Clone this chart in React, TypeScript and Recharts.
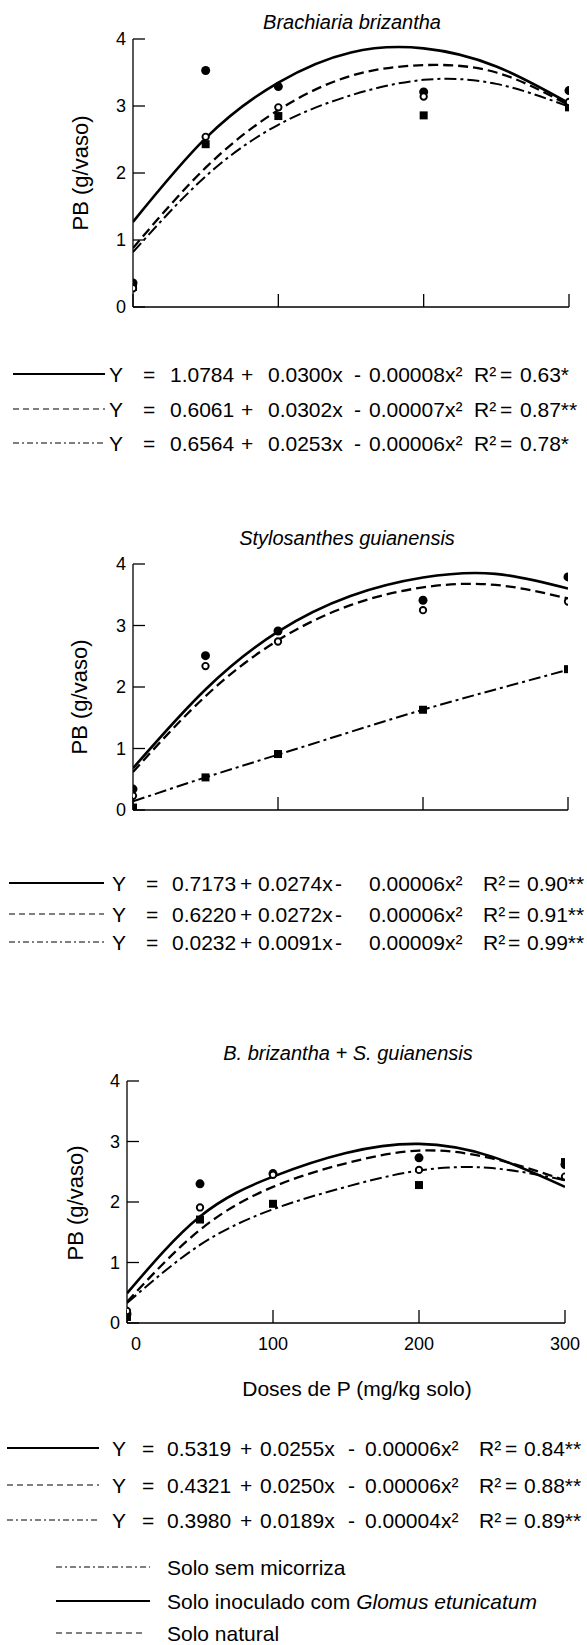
import React from 'react';
import { ComposedChart, XAxis, YAxis, Line, Scatter } from 'recharts';

// ---------- data ----------
const doses = [0, 50, 100, 200, 300];
const curveDoses = [0, 50, 100, 150, 200, 250, 300];
const xTicks = [0, 100, 200, 300];
const yTicks = [0, 1, 2, 3, 4];

// Brachiaria brizantha
const bbInoculado = [0.36, 3.53, 3.29, 3.21, 3.23];
const bbNatural = [0.28, 2.54, 2.98, 3.14, 3.06];
const bbSemMic = [0.3, 2.43, 2.85, 2.86, 2.98];
const bbCurveInoc = [1.27, 2.52, 3.35, 3.8, 3.86, 3.59, 3.04];
const bbCurveNat = [0.88, 2.08, 2.94, 3.45, 3.61, 3.5, 3.01];
const bbCurveSem = [0.82, 1.95, 2.72, 3.16, 3.39, 3.33, 2.99];

// Stylosanthes guianensis
const sgInoculado = [0.34, 2.51, 2.91, 3.41, 3.79];
const sgNatural = [0.23, 2.34, 2.74, 3.25, 3.39];
const sgSemMic = [0.04, 0.53, 0.91, 1.63, 2.29];
const sgCurveInoc = [0.68, 1.96, 2.9, 3.48, 3.78, 3.84, 3.6];
const sgCurveNat = [0.62, 1.85, 2.76, 3.33, 3.62, 3.66, 3.44];
const sgCurveSem = [0.14, 0.53, 0.9, 1.27, 1.63, 1.96, 2.28];

// B. brizantha + S. guianensis
const mxInoculado = [0.15, 2.3, 2.47, 2.73, 2.62];
const mxNatural = [0.2, 1.91, 2.45, 2.53, 2.42];
const mxSemMic = [0.1, 1.71, 1.97, 2.28, 2.66];
const mxCurveInoc = [0.49, 1.76, 2.42, 2.81, 2.96, 2.75, 2.25];
const mxCurveNat = [0.35, 1.54, 2.25, 2.64, 2.85, 2.72, 2.36];
const mxCurveSem = [0.33, 1.29, 1.88, 2.25, 2.52, 2.56, 2.36];

// equations [a, b, c, R2]
const bbEquations = [
  ['1.0784', '0.0300x', '0.00008x²', '0.63*'],
  ['0.6061', '0.0302x', '0.00007x²', '0.87**'],
  ['0.6564', '0.0253x', '0.00006x²', '0.78*'],
];
const sgEquations = [
  ['0.7173', '0.0274x', '0.00006x²', '0.90**'],
  ['0.6220', '0.0272x', '0.00006x²', '0.91**'],
  ['0.0232', '0.0091x', '0.00009x²', '0.99**'],
];
const mxEquations = [
  ['0.5319', '0.0255x', '0.00006x²', '0.84**'],
  ['0.4321', '0.0250x', '0.00006x²', '0.88**'],
  ['0.3980', '0.0189x', '0.00004x²', '0.89**'],
];

// ---------- styles ----------
const FONT = '"Liberation Sans", Arial, Helvetica, sans-serif';

const toPts = (xs: number[], ys: number[]) => xs.map((x, i) => ({ x, y: ys[i] }));

const FilledDot = (p: any) => <circle cx={p.cx} cy={p.cy} r={4.5} fill="#000" />;
const OpenDot = (p: any) => (
  <circle cx={p.cx} cy={p.cy} r={3.2} fill="#fff" stroke="#000" strokeWidth={1.9} />
);
const SquareDot = (p: any) => <rect x={p.cx - 4} y={p.cy - 4} width={8} height={8} fill="#000" />;

const XTick = (p: any) => {
  const v = p.payload?.value;
  const dx = v === 0 ? 9 : 0;
  return (
    <text
      x={p.x + dx}
      y={p.y}
      textAnchor="middle"
      dominantBaseline="hanging"
      fontSize={18}
      fill="#000"
      fontFamily={FONT}
    >
      {p.show ? String(v) : ''}
    </text>
  );
};

type PanelProps = {
  top: number;
  height: number;
  margin: { top: number; right: number; bottom: number; left: number };
  xAxisHeight: number;
  showXLabels: boolean;
  inoc: number[];
  nat: number[];
  sem: number[];
  cInoc: number[];
  cNat: number[];
  cSem: number[];
};

function Panel(props: PanelProps) {
  const { top, height, margin, xAxisHeight, showXLabels } = props;
  return (
    <div style={{ position: 'absolute', left: 0, top, width: 587, height }}>
      <ComposedChart width={587} height={height} margin={margin}>
        <XAxis
          type="number"
          dataKey="x"
          domain={[0, 300]}
          ticks={xTicks}
          interval={0}
          height={xAxisHeight}
          tickSize={-13}
          tickMargin={27}
          stroke="#000"
          axisLine={{ stroke: '#000', strokeWidth: 1.3 }}
          tickLine={{ stroke: '#000', strokeWidth: 1.3 }}
          tick={(tp: any) => <XTick {...tp} show={showXLabels} />}
          allowDataOverflow
        />
        <YAxis
          type="number"
          dataKey="y"
          domain={[0, 4]}
          ticks={yTicks}
          interval={0}
          width={60}
          tickSize={-12}
          tickMargin={19}
          stroke="#000"
          axisLine={{ stroke: '#000', strokeWidth: 1.3 }}
          tickLine={{ stroke: '#000', strokeWidth: 1.3 }}
          tick={{ fill: '#000', fontSize: 18, fontFamily: FONT }}
          allowDataOverflow
        />
        <Line
          data={toPts(curveDoses, props.cSem)}
          dataKey="y"
          type="natural"
          stroke="#000"
          strokeWidth={2}
          strokeDasharray="12 4 3 4"
          dot={false}
          activeDot={false}
          isAnimationActive={false}
        />
        <Line
          data={toPts(curveDoses, props.cNat)}
          dataKey="y"
          type="natural"
          stroke="#000"
          strokeWidth={2.3}
          strokeDasharray="10 5"
          dot={false}
          activeDot={false}
          isAnimationActive={false}
        />
        <Line
          data={toPts(curveDoses, props.cInoc)}
          dataKey="y"
          type="natural"
          stroke="#000"
          strokeWidth={2.6}
          dot={false}
          activeDot={false}
          isAnimationActive={false}
        />
        <Scatter data={toPts(doses, props.sem)} dataKey="y" shape={SquareDot} isAnimationActive={false} />
        <Scatter data={toPts(doses, props.inoc)} dataKey="y" shape={FilledDot} isAnimationActive={false} />
        <Scatter data={toPts(doses, props.nat)} dataKey="y" shape={OpenDot} isAnimationActive={false} />
      </ComposedChart>
    </div>
  );
}

function EqLegend({
  rows,
  ys,
  lineX,
  xs,
}: {
  rows: string[][];
  ys: number[];
  lineX: [number, number];
  xs: number[];
}) {
  const legendDash = [undefined, '6 4', '6 3 2 3'];
  return (
    <g>
      {rows.map((r, i) => (
        <g key={i}>
          <line
            x1={lineX[0]}
            x2={lineX[1]}
            y1={ys[i]}
            y2={ys[i]}
            stroke="#000"
            strokeWidth={i === 0 ? 1.8 : 1.2}
            strokeDasharray={legendDash[i]}
          />
          <text y={ys[i]} dominantBaseline="central" fontSize={21} fill="#000" fontFamily={FONT}>
            <tspan x={xs[0]}>Y</tspan>
            <tspan x={xs[1]}>=</tspan>
            <tspan x={xs[2]}>{r[0]}</tspan>
            <tspan x={xs[3]}>+</tspan>
            <tspan x={xs[4]}>{r[1]}</tspan>
            <tspan x={xs[5]}>-</tspan>
            <tspan x={xs[6]}>{r[2]}</tspan>
            <tspan x={xs[7]}>R²</tspan>
            <tspan x={xs[8]}>=</tspan>
            <tspan x={xs[9]}>{r[3]}</tspan>
          </text>
        </g>
      ))}
    </g>
  );
}

function YLabel({ x, y }: { x: number; y: number }) {
  return (
    <text
      x={x}
      y={y}
      transform={`rotate(-90, ${x}, ${y})`}
      textAnchor="middle"
      dominantBaseline="central"
      fontSize={22}
      fill="#000"
      fontFamily={FONT}
    >
      PB (g/vaso)
    </text>
  );
}

function Title({ x, y, children }: { x: number; y: number; children: React.ReactNode }) {
  return (
    <text
      x={x}
      y={y}
      textAnchor="middle"
      dominantBaseline="central"
      fontSize={20}
      fontStyle="italic"
      fill="#000"
      fontFamily={FONT}
    >
      {children}
    </text>
  );
}

export default function App() {
  return (
    <div
      style={{
        position: 'absolute',
        left: 0,
        top: 0,
        width: 587,
        height: 1645,
        background: '#fff',
        overflow: 'hidden',
        fontFamily: FONT,
      }}
    >
      <Panel
        top={0}
        height={330}
        margin={{ top: 39, right: 18, bottom: 3, left: 73 }}
        xAxisHeight={20}
        showXLabels={false}
        inoc={bbInoculado}
        nat={bbNatural}
        sem={bbSemMic}
        cInoc={bbCurveInoc}
        cNat={bbCurveNat}
        cSem={bbCurveSem}
      />
      <Panel
        top={520}
        height={310}
        margin={{ top: 44, right: 19, bottom: 0, left: 73 }}
        xAxisHeight={20}
        showXLabels={false}
        inoc={sgInoculado}
        nat={sgNatural}
        sem={sgSemMic}
        cInoc={sgCurveInoc}
        cNat={sgCurveNat}
        cSem={sgCurveSem}
      />
      <Panel
        top={1060}
        height={300}
        margin={{ top: 21, right: 22, bottom: 7, left: 67 }}
        xAxisHeight={30}
        showXLabels={true}
        inoc={mxInoculado}
        nat={mxNatural}
        sem={mxSemMic}
        cInoc={mxCurveInoc}
        cNat={mxCurveNat}
        cSem={mxCurveSem}
      />
      <svg
        width={587}
        height={1645}
        style={{ position: 'absolute', left: 0, top: 0, pointerEvents: 'none' }}
      >
        <Title x={352} y={22}>Brachiaria brizantha</Title>
        <YLabel x={80} y={173} />
        <EqLegend
          rows={bbEquations}
          ys={[374, 409, 443]}
          lineX={[13, 105]}
          xs={[109, 143, 170, 241, 268, 354, 369, 474, 500, 520]}
        />

        <Title x={347} y={538}>Stylosanthes  guianensis</Title>
        <YLabel x={79} y={697} />
        <EqLegend
          rows={sgEquations}
          ys={[883, 914, 942]}
          lineX={[9, 104]}
          xs={[112, 146, 172, 240, 258, 335, 369, 483, 508, 527]}
        />

        <Title x={348} y={1053}>B. brizantha + S. guianensis</Title>
        <YLabel x={75} y={1203} />
        <text
          x={357}
          y={1388}
          textAnchor="middle"
          dominantBaseline="central"
          fontSize={21}
          fill="#000"
          fontFamily={FONT}
        >
          Doses de P (mg/kg solo)
        </text>
        <EqLegend
          rows={mxEquations}
          ys={[1448, 1485, 1520]}
          lineX={[7, 99]}
          xs={[112, 142, 167, 240, 260, 348, 365, 479, 505, 524]}
        />

        <g fontFamily={FONT} fontSize={21} fill="#000">
          <line x1={56} x2={150} y1={1567} y2={1567} stroke="#000" strokeWidth={1.2} strokeDasharray="6 3 2 3" />
          <text x={167} y={1567} dominantBaseline="central">Solo sem micorriza</text>
          <line x1={56} x2={150} y1={1601} y2={1601} stroke="#000" strokeWidth={1.8} />
          <text x={167} y={1601} dominantBaseline="central">
            Solo inoculado com <tspan fontStyle="italic">Glomus etunicatum</tspan>
          </text>
          <line x1={56} x2={146} y1={1633} y2={1633} stroke="#000" strokeWidth={1.2} strokeDasharray="6 4" />
          <text x={167} y={1633} dominantBaseline="central">Solo natural</text>
        </g>
      </svg>
    </div>
  );
}
